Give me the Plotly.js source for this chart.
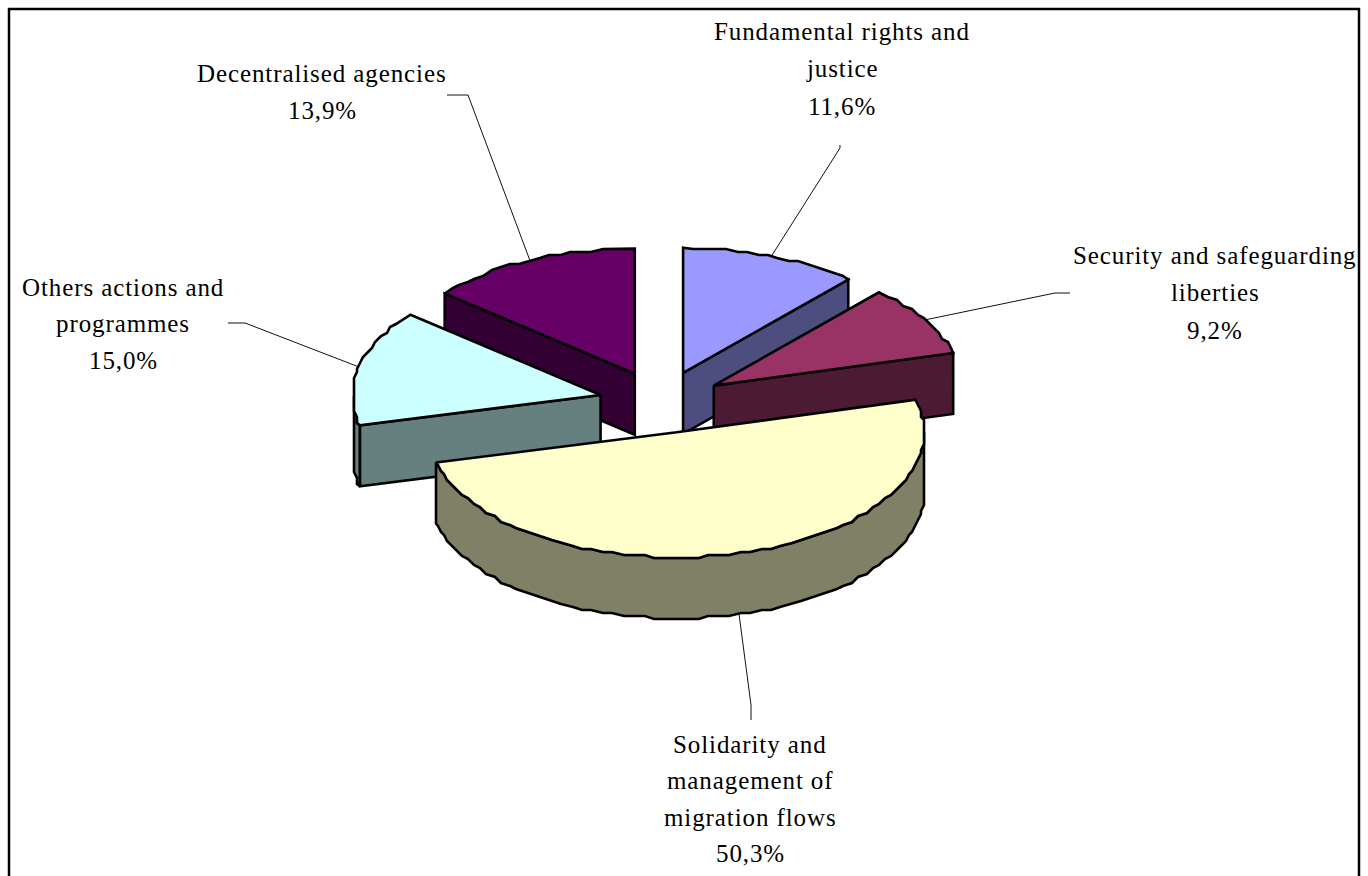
<!DOCTYPE html>
<html><head><meta charset="utf-8">
<script src="https://cdn.plot.ly/plotly-3.0.1.min.js"></script>
<style>html,body{margin:0;padding:0;background:#fff;overflow:hidden}#chart{width:1368px;height:876px}
.annotation-text{letter-spacing:0.9px}</style>
</head><body><div id="chart"></div>
<script>
// ---- data ----
const categories = ["Fundamental rights and justice","Security and safeguarding liberties","Solidarity and management of migration flows","Others actions and programmes","Decentralised agencies"];
const values = [11.6, 9.2, 50.3, 15.0, 13.9];
const valueLabels = ["11,6%","9,2%","50,3%","15,0%","13,9%"];
const topColors = ["#9999ff","#993366","#ffffcc","#ccffff","#660066"];
const sideColors = ["#4d4d80","#4d1a33","#808066","#668080","#330033"];
const labelLines = [["Fundamental rights and","justice"],["Security and safeguarding","liberties"],["Solidarity and","management of","migration flows"],["Others actions and","programmes"],["Decentralised agencies"]];

// ---- layout constants ----
const CX=661, CY=402, RX=248, RY=125, DEPTH=61, EXPLODE=0.25, STEP=2.5, SNAP=3;
const drawOrder=[4,0,1,3,2];
const labelCenter=[[842,31],[1215,255],[750,744],[123,287],[322,73]];
const LINE_H=[37.5,37.5,36.5,36.5,37];
const leaderElbow=[[[840,148],[840,145]],[[1055,293],[1070,293]],[[751,705],[751,720]],[[245,323],[228,323]],[[468,95],[447,95]]];

const rad=d=>d*Math.PI/180;
const snap=v=>Math.round(v/SNAP)*SNAP;
// slice start/end angles, clockwise from the top, from the values
const total=values.reduce((a,b)=>a+b,0);
let acc=0;
const slices=values.map((v,i)=>{
  const a0=acc/total*360; acc+=v; const a1=acc/total*360; const m=(a0+a1)/2;
  return {i,a0,a1,m,cx:CX+EXPLODE*RX*Math.sin(rad(m)),cy:CY-EXPLODE*RY*Math.cos(rad(m))};
});
const rimPt=(s,a)=>[s.cx+RX*Math.sin(rad(a)),s.cy-RY*Math.cos(rad(a))];
function arc(s,a0,a1,dz=0){
  const angles=[a0];
  for(let k=Math.floor(a0/STEP)+1;k*STEP<a1;k++) if(k*STEP>a0) angles.push(k*STEP);
  angles.push(a1);
  return angles.map(a=>{
    const p=rimPt(s,a);
    const corner=(a===s.a0||a===s.a1);
    return corner?[p[0],p[1]+dz]:[snap(p[0]),snap(p[1])+dz];
  });
}
function poly(pts,color,name){
  const xs=pts.map(p=>p[0]),ys=pts.map(p=>p[1]);
  xs.push(xs[0]);ys.push(ys[0]);
  return {type:"scatter",mode:"lines",x:xs,y:ys,fill:"toself",fillcolor:color,name,
    line:{color:"#000",width:2.6,shape:"linear"},hoverinfo:"text",text:name,showlegend:false};
}
const traces=[];
// leader lines first, from the middle of each slice's rim
slices.forEach(s=>{
  const p=rimPt(s,s.m);
  const a=[p[0],p[1]+((s.m>90&&s.m<270&&s.i===2)?DEPTH:0)];
  const pts=[a,...leaderElbow[s.i]];
  traces.push({type:"scatter",mode:"lines",x:pts.map(q=>q[0]),y:pts.map(q=>q[1]),
    line:{color:"#111",width:1},hoverinfo:"skip",showlegend:false});
});
drawOrder.forEach(idx=>{
  const s=slices[idx],side=sideColors[idx],nm=categories[idx]+" "+valueLabels[idx];
  const ctr=[s.cx,s.cy],ctrB=[s.cx,s.cy+DEPTH];
  // outer wall, front half only
  const r0=Math.max(s.a0,90),r1=Math.min(s.a1,270);
  if(r1>r0){
    traces.push(poly([...arc(s,r0,r1,0),...arc(s,r0,r1,DEPTH).reverse()],side,nm));
  }
  // cut faces that look toward the viewer
  if(s.a1<90){const p=rimPt(s,s.a1);traces.push(poly([ctr,p,[p[0],p[1]+DEPTH],ctrB],side,nm));}
  if(s.a0>180){const p=rimPt(s,s.a0);traces.push(poly([ctr,p,[p[0],p[1]+DEPTH],ctrB],side,nm));}
  // top face
  traces.push(poly([ctr,...arc(s,s.a0,s.a1,0)],topColors[idx],nm));
});
// labels, one annotation per line
const annotations=[];
slices.forEach(s=>{
  const lines=[...labelLines[s.i],valueLabels[s.i]];
  lines.forEach((t,k)=>annotations.push({x:labelCenter[s.i][0],y:labelCenter[s.i][1]+k*LINE_H[s.i],
    xref:"x",yref:"y",text:t,showarrow:false,xanchor:"center",yanchor:"middle",
    font:{family:"'Liberation Serif','Times New Roman',serif",size:25,color:"#000"}}));
});
const layout={width:1368,height:876,margin:{l:0,r:0,t:0,b:0},paper_bgcolor:"#fff",plot_bgcolor:"#fff",showlegend:false,
  xaxis:{range:[0,1368],visible:false,fixedrange:true},
  yaxis:{range:[876,0],visible:false,fixedrange:true},
  annotations,
  shapes:[{type:"rect",xref:"x",yref:"y",x0:9,x1:1359,y0:9,y1:900,line:{color:"#000",width:2.5},layer:"below"}]};
Plotly.newPlot("chart",traces,layout,{displayModeBar:false,staticPlot:true});
</script></body></html>
